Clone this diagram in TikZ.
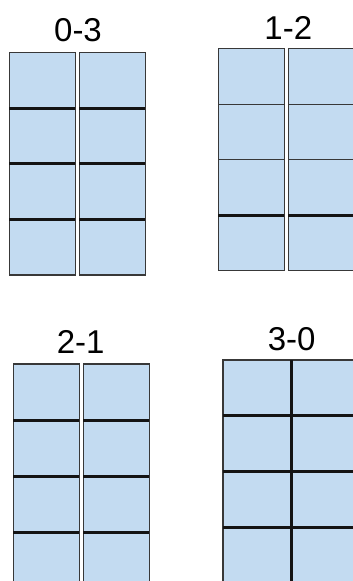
\documentclass[tikz,border=0pt]{standalone}
\usepackage{fontspec}
\setmainfont{Liberation Sans}
\usepackage{tikz}
\definecolor{cellblue}{HTML}{C3DBF1}
\definecolor{cellgray}{HTML}{383838}
\tikzset{
  cell/.style={fill=cellblue,draw=cellgray,line width=1.4pt},
  sep/.style={line width=3pt,black!92},
  lbl/.style={font=\fontsize{33}{36}\selectfont,anchor=base,inner sep=0pt}
}
\begin{document}
\begin{tikzpicture}[x=1pt,y=-1pt]
  \useasboundingbox (0,0) rectangle (353,581);
  \clip (0,0) rectangle (353,581);
  % 0-3 : all rows split
  \node[lbl] (t03) at (78,41.7) {0-3};
  \foreach \c in {0,1} {
    \foreach \r in {0,...,3} \draw[cell] (9.3+\c*70,52.3+\r*55.7) rectangle ++(66,55.7);
    \foreach \r in {1,2,3} \draw[sep] (9.3+\c*70,52.3+\r*55.7) -- ++(66,0);
  }
  % 1-2 : only the last row split
  \node[lbl] (t12) at (288.3,39.3) {1-2};
  \foreach \c in {0,1} {
    \foreach \r in {0,...,3} \draw[cell] (218.3+\c*70,48.7+\r*55.5) rectangle ++(66,55.5);
    \draw[sep] (218.3+\c*70,48.7+3*55.5) -- ++(66,0);
  }
  % 2-1
  \node[lbl] (t21) at (80.7,353.3) {2-1};
  \foreach \c in {0,1} {
    \foreach \r in {0,...,3} \draw[cell] (13.3+\c*70,364+\r*56) rectangle ++(66,56);
    \foreach \r in {1,2,3} \draw[sep] (13.3+\c*70,364+\r*56) -- ++(66,0);
  }
  % 3-0 : no gap, columns split too
  \node[lbl] (t30) at (291.7,350.7) {3-0};
  \foreach \c in {0,1} {
    \foreach \r in {0,...,3} \draw[cell] (223+\c*68,360+\r*55.8) rectangle ++(68,55.8);
    \foreach \r in {1,2,3} \draw[sep] (223+\c*68,360+\r*55.8) -- ++(68,0);
  }
  \draw[sep] (291,360) -- (291,590);
\end{tikzpicture}
\end{document}
